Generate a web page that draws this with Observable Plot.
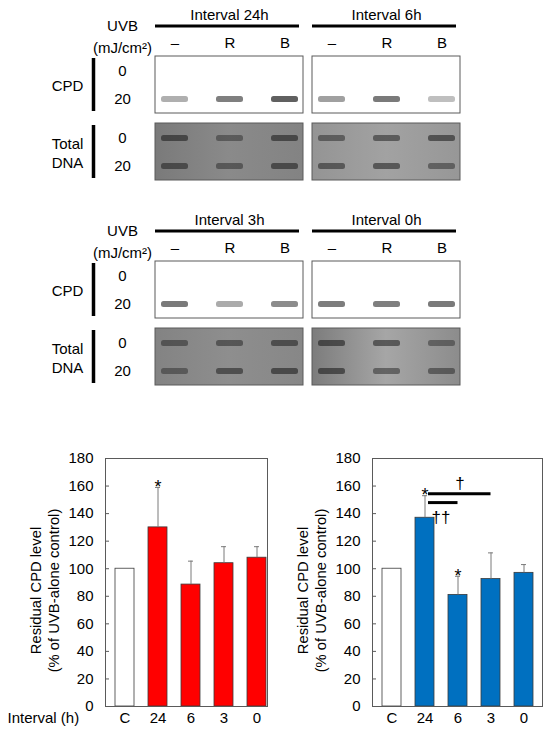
<!DOCTYPE html>
<html><head><meta charset="utf-8">
<script src="https://cdn.jsdelivr.net/npm/d3@7"></script>
<script src="https://cdn.jsdelivr.net/npm/@observablehq/plot@0.6"></script>
<style>
body{margin:0;background:#fff;}
#root{position:relative;width:550px;height:733px;overflow:hidden;font-family:"Liberation Sans",Arial,sans-serif;}
#root svg{position:absolute;overflow:visible;}
</style></head><body><div id="root"></div>
<script>
// ---------- blot data ----------
const lanes = ["–", "R", "B"];
const doses = ["0", "20"];
const panels = ["CPD", "Total DNA"];
const blockTop = ["24h", "6h"];
const blockBottom = ["3h", "0h"];
// band darkness (0 = none, 1 = black), per lane
const cpd20_24h = [0.36, 0.58, 0.72];
const cpd20_6h  = [0.43, 0.60, 0.29];
const cpd20_3h  = [0.60, 0.38, 0.52];
const cpd20_0h  = [0.59, 0.58, 0.60];
const tot0_24h  = [0.62, 0.45, 0.62];
const tot20_24h = [0.58, 0.48, 0.60];
const tot0_6h   = [0.50, 0.55, 0.60];
const tot20_6h  = [0.55, 0.58, 0.48];
const tot0_3h   = [0.50, 0.52, 0.58];
const tot20_3h  = [0.45, 0.58, 0.62];
const tot0_0h   = [0.62, 0.58, 0.45];
const tot20_0h  = [0.62, 0.50, 0.50];

// ---------- bar chart data ----------
const groups = ["C", "24", "6", "3", "0"];
const yTicks = [0, 20, 40, 60, 80, 100, 120, 140, 160, 180];
const redMean = [100, 130, 88.5, 104, 108];
const redErr  = [0, 29, 17, 12, 8];
const blueMean = [100, 137, 81, 92.5, 97];
const blueErr  = [0, 16, 13.5, 19, 6];
const redStars = ["24"];
const blueStars = ["24", "6"];
const blueSigLines = [
  {from: "24", to: "3", level: 154.5},
  {from: "24", to: "6", level: 148}
];
const blueDagger = [{at: "6", y: 162, mark: "†"}];
const blueDoubleDagger = [{at: "24", y: 137, mark: "††"}];

const FONT = '"Liberation Sans", Arial, sans-serif';
const root = document.getElementById("root");

const cpdValues = {"24h": cpd20_24h, "6h": cpd20_6h, "3h": cpd20_3h, "0h": cpd20_0h};
const totValues = {"24h": [tot0_24h, tot20_24h], "6h": [tot0_6h, tot20_6h], "3h": [tot0_3h, tot20_3h], "0h": [tot0_0h, tot20_0h]};
const totalBg = {
  "24h": ["#7a7a7a", "#8a8a8a", "#838383"],
  "6h":  ["#949494", "#a2a2a2", "#979797"],
  "3h":  ["#838383", "#8e8e8e", "#878787"],
  "0h":  ["#7c7c7c", "#a6a6a6", "#8c8c8c"]
};

function blot(intervals, top) {
  const bands = [];
  for (const iv of intervals) {
    lanes.forEach((l, i) => {
      bands.push({interval: iv, panel: "CPD", dose: "20", lane: l, v: cpdValues[iv][i]});
      doses.forEach((d, j) => bands.push({interval: iv, panel: "Total DNA", dose: d, lane: l, v: totValues[iv][j][i]}));
    });
  }
  const panelData = intervals.flatMap(iv => panels.map(p => ({interval: iv, panel: p, fill: p === "CPD" ? "white" : `url(#bg${iv})`})));
  const header = intervals.map(iv => ({interval: iv, panel: "CPD", label: "Interval " + iv}));
  const laneLabels = intervals.flatMap(iv => lanes.map(l => ({interval: iv, panel: "CPD", lane: l})));
  const first = intervals[0];
  const rowLabels = panels.flatMap(p => doses.map(d => ({interval: first, panel: p, dose: d})));
  const panelLabels = [{interval: first, panel: "CPD", label: "CPD"}, {interval: first, panel: "Total DNA", label: "Total\nDNA"}];
  const unit = [{interval: first, panel: "CPD"}];
  const T = {textAnchor: "middle", lineAnchor: "middle", fontSize: 15, fill: "#000"};
  const svg = Plot.plot({
    width: 550, height: 190, marginLeft: 155, marginRight: 90, marginTop: 55, marginBottom: 10,
    style: {fontFamily: FONT, fontSize: "15px", color: "#000", background: "transparent"},
    fx: {domain: intervals, paddingInner: 0.06, paddingOuter: 0, axis: null},
    fy: {domain: panels, paddingInner: 0.15, paddingOuter: 0, axis: null},
    x: {domain: lanes, paddingInner: 0.51, paddingOuter: 0.09, axis: null},
    y: {domain: doses, paddingInner: 0.8, paddingOuter: 0.4, axis: null},
    color: {type: "identity"},
    opacity: {domain: [0, 1], range: [0, 1]},
    marks: [
      Plot.rect(panelData, {fx: "interval", fy: "panel", fill: "fill", stroke: "#5a5a5a", strokeWidth: 1}),
      Plot.cell(bands, {fx: "interval", fy: "panel", x: "lane", y: "dose", fill: "#222", fillOpacity: "v", rx: 2.5, ariaLabel: "band"}),
      Plot.text(header, {fx: "interval", fy: "panel", text: "label", frameAnchor: "top", dy: -41, ...T}),
      Plot.ruleY(header, {fx: "interval", fy: "panel", y: () => "0", dy: -45.4, strokeWidth: 3, insetRight: 4, stroke: "#000"}),
      Plot.text(laneLabels, {fx: "interval", fy: "panel", x: "lane", text: "lane", frameAnchor: "top", dy: -13, ...T}),
      Plot.text(rowLabels, {fx: "interval", fy: "panel", y: "dose", text: "dose", frameAnchor: "left", dx: -33, ...T}),
      Plot.text(panelLabels, {fx: "interval", fy: "panel", text: "label", frameAnchor: "left", dx: -88, lineHeight: 1.3, ...T}),
      Plot.ruleX(panelLabels, {fx: "interval", fy: "panel", x: () => "–", dx: -81.5, strokeWidth: 3.5, insetTop: 2, insetBottom: 2, stroke: "#000"}),
      Plot.text(unit, {fx: "interval", fy: "panel", text: () => "UVB", frameAnchor: "top-left", dx: -33, dy: -30, ...T}),
      Plot.text(unit, {fx: "interval", fy: "panel", text: () => "(mJ/cm²)", frameAnchor: "top-left", dx: -33, dy: -8, ...T})
    ]
  });
  const ns = "http://www.w3.org/2000/svg";
  const defs = document.createElementNS(ns, "defs");
  const f = document.createElementNS(ns, "filter");
  f.setAttribute("id", "blur" + first);
  f.setAttribute("x", "-20%"); f.setAttribute("y", "-100%"); f.setAttribute("width", "140%"); f.setAttribute("height", "300%");
  const gb = document.createElementNS(ns, "feGaussianBlur");
  gb.setAttribute("stdDeviation", "1.1 0.9");
  f.appendChild(gb); defs.appendChild(f);
  for (const iv of intervals) {
    const g = document.createElementNS(ns, "linearGradient");
    g.setAttribute("id", "bg" + iv);
    totalBg[iv].forEach((c, k) => {
      const s = document.createElementNS(ns, "stop");
      s.setAttribute("offset", [0, 0.5, 1][k]);
      s.setAttribute("stop-color", c);
      g.appendChild(s);
    });
    defs.appendChild(g);
  }
  svg.insertBefore(defs, svg.firstChild);
  svg.querySelectorAll('[aria-label="band"]').forEach(el => el.setAttribute("filter", `url(#blur${first})`));
  svg.style.left = "0px"; svg.style.top = top + "px";
  root.appendChild(svg);
}

blot(blockTop, 0);
blot(blockBottom, 205);

function barChart(means, errs, color, stars, opts) {
  const rows = groups.map((g, i) => ({g, m: means[i], e: errs[i], hi: means[i] + errs[i], fill: i === 0 ? "white" : color}));
  const withErr = rows.filter(d => d.e > 0);
  const starRows = rows.filter(d => stars.includes(d.g));
  const frameW = 275 - opts.ml - opts.mr;
  const marks = [
    Plot.barY(rows, {x: "g", y: "m", fill: "fill", stroke: "#3a3a3a", strokeWidth: 0.8}),
    Plot.ruleX(withErr, {x: "g", y1: "m", y2: "hi", stroke: "#7a7a7a", strokeWidth: 1}),
    Plot.tickY(withErr, {x: "g", y: "hi", stroke: "#7a7a7a", strokeWidth: 1, insetLeft: 7, insetRight: 7}),
    Plot.tickY(yTicks, {y: d => d, insetRight: frameW - 4, stroke: "#5a5a5a", strokeWidth: 1}),
    Plot.frame({stroke: "#5a5a5a", strokeWidth: 1}),
    Plot.axisY({ticks: yTicks, tickSize: 0, tickPadding: 12, label: null, fontSize: 15}),
    Plot.axisX({tickSize: 0, tickPadding: 6, label: null, fontSize: 15}),
    Plot.text(starRows, {x: "g", y: "hi", text: () => "*", fontSize: 18, fill: "#000"}),
    Plot.text([0], {frameAnchor: "left", dx: -61, dy: 8, rotate: -90, lineHeight: 1.22, fontSize: 14.8,
      textAnchor: "middle", lineAnchor: "middle", fill: "#000",
      text: () => "Residual CPD level\n(% of UVB-alone control)"})
  ];
  if (opts.sig) {
    marks.push(Plot.ruleY(blueSigLines, {x1: "from", x2: "to", y: "level", strokeWidth: 3, insetLeft: 13, insetRight: 9.5, stroke: "#000"}));
    marks.push(Plot.text(blueDagger, {x: "at", y: "y", dx: 2, text: "mark", fontSize: 17, fill: "#000"}));
    marks.push(Plot.text(blueDoubleDagger, {x: "at", y: "y", dx: 16, text: "mark", fontSize: 17, fill: "#000"}));
  }
  if (opts.intervalLabel) {
    marks.push(Plot.text([0], {frameAnchor: "bottom-left", dx: -98, dy: 12, textAnchor: "start", lineAnchor: "middle", text: () => "Interval (h)", fontSize: 15, fill: "#000"}));
  }
  const svg = Plot.plot({
    width: 275, height: 293, marginLeft: opts.ml, marginRight: opts.mr, marginTop: 18, marginBottom: 27,
    style: {fontFamily: FONT, fontSize: "15px", color: "#000", background: "transparent"},
    x: {domain: groups, paddingInner: 0.43, paddingOuter: opts.po, align: opts.align, axis: null},
    y: {domain: [0, 180], axis: null},
    color: {type: "identity"},
    marks
  });
  svg.style.left = opts.left + "px"; svg.style.top = "440px";
  root.appendChild(svg);
}

barChart(redMean, redErr, "#ff0000", redStars, {ml: 105, mr: 8, po: 0.13, align: 0.89, left: 0, intervalLabel: true, sig: false});
barChart(blueMean, blueErr, "#0070c0", blueStars, {ml: 97, mr: 8, po: 0.23, align: 0.5, left: 275, intervalLabel: false, sig: true});
</script>
</body></html>
